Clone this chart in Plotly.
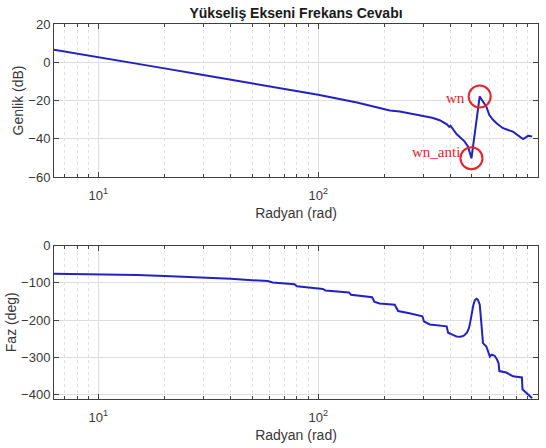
import math
import plotly.graph_objects as go

# ---------------- data ----------------
mag_w = [6.28, 10, 20, 30, 50, 100, 150, 190, 205, 212, 235, 290, 330, 357, 385,
         395, 400, 426, 464, 480, 498, 543, 560, 582, 600, 624, 650, 693, 769,
         820, 855, 880, 901, 920, 940]
mag_db = [6.5, 2.7, -3.2, -6.7, -11.1, -17.0, -21.0, -23.8, -24.6, -25.2, -25.8,
          -27.6, -29.0, -30.3, -32.5, -33.8, -33.2, -37.5, -41.5, -44.0, -50.2,
          -17.9, -20.5, -23.2, -27.5, -30.1, -32.0, -34.5, -36.3, -38.5, -40.2,
          -39.3, -38.5, -38.6, -38.9]

phase_w = [6.28, 8, 10, 15, 20, 30, 40, 50, 59, 62, 70, 78, 80, 90, 100, 105, 108,
           120, 138, 141, 160, 176, 180, 190, 223, 231, 260, 298, 303, 322, 384,
           390, 410, 426, 445, 460, 475, 485, 492, 500, 508, 516, 525, 533, 543,
           550, 556, 562, 582, 600, 604, 615, 635, 651, 662, 667, 690, 718, 769,
           800, 845, 850, 886, 910, 940]
phase_deg = [-76, -76.5, -77, -79.5, -81.7, -85.5, -89.5, -93, -95.5, -99.5, -101.5,
             -104, -109.5, -112, -114.5, -116.5, -121, -123, -126, -132, -135.5,
             -139, -151, -155.5, -159, -176, -182, -190, -204, -212, -217, -234,
             -240, -244, -245, -242, -234, -222, -205, -180, -160, -147, -143, -146,
             -158, -195, -240, -262, -271, -289, -298, -293, -296, -306, -316, -337,
             -339, -341, -351, -352, -354, -386, -396, -400, -410]

x_tickvals = [10, 100, 1000]
x_ticktext = ["10<sup>1</sup>", "10<sup>2</sup>", "10<sup>3</sup>"]
x_minorvals = [7, 8, 9, 20, 30, 40, 50, 60, 70, 80, 90,
               200, 300, 400, 500, 600, 700, 800, 900]
mag_ticks = [-60, -40, -20, 0, 20]
phase_ticks = [-400, -300, -200, -100, 0]

title_text = "Yükseliş Ekseni Frekans Cevabı"
xlabel = "Radyan (rad)"
mag_label = "Genlik (dB)"
phase_label = "Faz (deg)"

# ---------------- derived (resonance markers) ----------------
i_anti = min(range(len(mag_db)), key=lambda i: mag_db[i])
i_res = max(range(i_anti, len(mag_db)), key=lambda i: mag_db[i])

# ---------------- styling ----------------
W, H = 546, 448
LINE = "#2222c4"
AX = "#404040"
TXT = "#383838"
GRID = "#dedede"
MINOR = "#e2e2e2"
RED = "#e4232b"
FONT = "Liberation Sans, Arial, sans-serif"

x_dom = [54 / W, 538 / W]
top_dom = [1 - 177 / H, 1 - 24 / H]
bot_dom = [1 - 399 / H, 1 - 245.5 / H]


def xaxis_cfg(anchor):
    return dict(
        domain=x_dom, anchor=anchor, type="log",
        range=[math.log10(2 * math.pi), 3],
        tickmode="array", tickvals=x_tickvals, ticktext=x_ticktext,
        ticks="inside", ticklen=5, tickcolor=AX, tickwidth=1,
        ticklabelstandoff=6,
        showline=True, linecolor=AX, linewidth=1, mirror="allticks",
        showgrid=True, gridcolor=GRID, gridwidth=1,
        minor=dict(tickmode="array", tickvals=x_minorvals, ticks="inside",
                   ticklen=3, tickcolor=AX, showgrid=True, gridcolor=MINOR,
                   griddash="dot", gridwidth=1),
        tickfont=dict(family=FONT, size=13, color=TXT),
        title=dict(text=xlabel, font=dict(family=FONT, size=14, color=TXT), standoff=6),
        zeroline=False, automargin=False,
    )


def yaxis_cfg(anchor, dom, rng, ticks):
    return dict(
        domain=dom, anchor=anchor, range=rng,
        tickmode="array", tickvals=ticks,
        ticks="inside", ticklen=5, tickcolor=AX, tickwidth=1,
        showline=True, linecolor=AX, linewidth=1, mirror="allticks",
        showgrid=True, gridcolor=GRID, gridwidth=1,
        tickfont=dict(family=FONT, size=13, color=TXT),
        zeroline=False, automargin=False,
    )


fig = go.Figure()
fig.add_trace(go.Scatter(x=mag_w, y=mag_db, mode="lines",
                         line=dict(color=LINE, width=2), xaxis="x", yaxis="y",
                         showlegend=False))
fig.add_trace(go.Scatter(x=phase_w, y=phase_deg, mode="lines",
                         line=dict(color=LINE, width=2), xaxis="x2", yaxis="y2",
                         showlegend=False))
# red circles on resonance / anti-resonance
fig.add_trace(go.Scatter(
    x=[mag_w[i_res], mag_w[i_anti]], y=[mag_db[i_res], mag_db[i_anti]],
    mode="markers", xaxis="x", yaxis="y", showlegend=False,
    marker=dict(symbol="circle-open", size=22, color=RED, line=dict(width=2, color=RED))))

ya1 = yaxis_cfg("x", top_dom, [-60, 20], mag_ticks)
ya1["title"] = dict(text=mag_label, font=dict(family=FONT, size=14, color=TXT), standoff=1)
ya2 = yaxis_cfg("x2", bot_dom, [-412, 0], phase_ticks)
ya2["title"] = dict(text=phase_label, font=dict(family=FONT, size=14, color=TXT), standoff=1)

fig.update_layout(
    width=W, height=H,
    margin=dict(l=0, r=0, t=0, b=0),
    paper_bgcolor="white", plot_bgcolor="white",
    xaxis=xaxis_cfg("y"), yaxis=ya1,
    xaxis2=xaxis_cfg("y2"), yaxis2=ya2,
    title=dict(text="<b>" + title_text + "</b>", x=296 / W, xanchor="center",
               y=1 - 13 / H, yanchor="middle",
               font=dict(family=FONT, size=14, color="#1a1a1a")),
    annotations=[
        dict(x=math.log10(mag_w[i_res]), y=mag_db[i_res], xref="x", yref="y",
             text="wn", showarrow=False, xanchor="right", yanchor="middle",
             xshift=-13, yshift=-2,
             font=dict(family="Liberation Serif, Times New Roman, serif", size=15, color=RED)),
        dict(x=math.log10(mag_w[i_anti]), y=mag_db[i_anti], xref="x", yref="y",
             text="wn_anti", showarrow=False, xanchor="right", yanchor="middle",
             xshift=-9, yshift=6,
             font=dict(family="Liberation Serif, Times New Roman, serif", size=15, color=RED)),
    ],
)

fig.write_html("out.html")
